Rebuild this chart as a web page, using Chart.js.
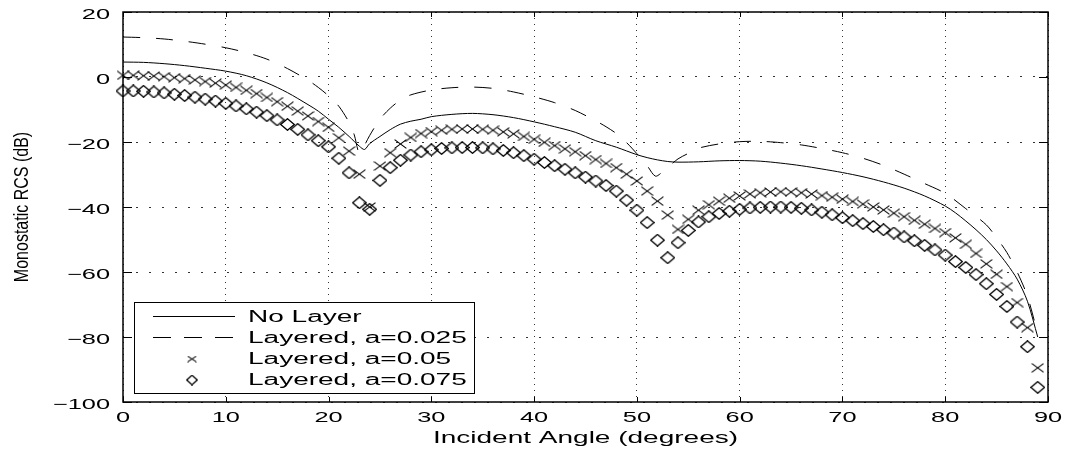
<!DOCTYPE html>
<html>
<head>
<meta charset="utf-8">
<script src="https://cdn.jsdelivr.net/npm/chart.js@4.4.1/dist/chart.umd.min.js"></script>
<style>
html,body{margin:0;padding:0;background:#fff;}
canvas{display:block;}
</style>
</head>
<body>
<canvas id="c" width="1068" height="449"></canvas>
<script>
// ---------------- data ----------------
const xTicks = [0, 10, 20, 30, 40, 50, 60, 70, 80, 90];
const yTicks = [-100, -80, -60, -40, -20, 0, 20];
const seriesLabels = ['No Layer', 'Layered, a=0.025', 'Layered, a=0.05', 'Layered, a=0.075'];
const xTitle = 'Incident Angle (degrees)';
const yTitle = 'Monostatic RCS (dB)';

const noLayerX = [0,2,4,6,8,10,12,14,16,18,19,20,21,22,23,23.5,24,25,26,27,28,29,30,32,34,36,38,40,42,44,46,48,50,51,52,53,54,56,58,60,62,64,66,68,70,72,74,76,78,80,81,82,83,84,85,86,87,88,89];
const noLayerY = [4.6,4.5,4.1,3.5,2.7,1.8,0.4,-1.8,-4.8,-8.5,-10.5,-13.0,-15.5,-18.3,-21.3,-22.3,-20.5,-18.3,-16.2,-14.5,-13.6,-13.0,-12.2,-11.5,-11.2,-11.6,-12.5,-13.8,-15.3,-17.0,-19.6,-21.6,-23.9,-24.8,-25.5,-26.0,-26.2,-26.1,-25.8,-25.7,-25.9,-26.5,-27.3,-28.3,-29.4,-30.7,-32.3,-34.2,-36.6,-39.7,-41.8,-44.3,-47.0,-50.0,-53.5,-57.5,-62.2,-69.0,-80.0];

const layer025X = [0,2,4,6,8,10,12,14,16,18,19,20,21,22,22.5,23,23.5,24,25,26,27,28,30,32,34,36,38,40,42,44,46,47,48,49,50,51,51.8,52.5,53,54,55,56,58,60,62,64,66,68,70,72,74,76,78,80,82,84,85,86,87,88,89];
const layer025Y = [12.3,12.1,11.7,11.0,10.1,9.0,7.5,5.5,2.6,-1.0,-3.2,-5.8,-9.0,-14.0,-17.8,-23.5,-21.0,-18.0,-13.0,-9.6,-7.1,-5.5,-4.0,-3.3,-3.1,-3.5,-4.6,-6.1,-7.9,-10.3,-13.5,-15.3,-17.4,-20.2,-23.6,-27.3,-30.5,-29.2,-27.8,-25.2,-23.5,-21.9,-20.6,-19.9,-19.8,-20.2,-20.9,-22.0,-23.3,-25.0,-27.2,-29.9,-32.8,-35.8,-40.5,-45.5,-49.5,-54.0,-60.0,-67.5,-79.0];

const angles = [0,1,2,3,4,5,6,7,8,9,10,11,12,13,14,15,16,17,18,19,20,21,22,23,24,25,26,27,28,29,30,31,32,33,34,35,36,37,38,39,40,41,42,43,44,45,46,47,48,49,50,51,52,53,54,55,56,57,58,59,60,61,62,63,64,65,66,67,68,69,70,71,72,73,74,75,76,77,78,79,80,81,82,83,84,85,86,87,88,89];

const layer05 = [0.5,0.5,0.4,0.3,0.1,-0.2,-0.5,-0.9,-1.4,-1.9,-2.5,-3.2,-4.1,-5.1,-6.3,-7.6,-9.0,-10.5,-12.0,-13.7,-15.5,-18.7,-22.8,-29.9,-40.0,-27.4,-23.3,-20.6,-18.6,-17.4,-16.8,-16.4,-16.1,-16.0,-16.0,-16.1,-16.4,-16.9,-17.5,-18.3,-19.2,-20.1,-21.1,-22.1,-23.0,-24.2,-25.4,-26.6,-27.9,-29.9,-32.0,-35.1,-38.2,-42.5,-46.9,-43.8,-41.0,-39.3,-38.2,-37.3,-36.6,-36.0,-35.6,-35.4,-35.3,-35.4,-35.6,-36.0,-36.5,-37.0,-37.6,-38.3,-39.1,-40.0,-40.9,-41.9,-43.0,-44.1,-45.3,-46.6,-47.9,-49.5,-51.5,-54.3,-57.5,-60.7,-64.5,-69.4,-77.1,-89.5];

const layer075 = [-4.3,-4.3,-4.4,-4.6,-4.9,-5.3,-5.7,-6.2,-6.8,-7.4,-8.1,-8.9,-9.8,-10.8,-11.9,-13.2,-14.6,-16.1,-17.8,-19.6,-21.5,-25.0,-29.5,-38.7,-40.7,-31.8,-27.9,-25.6,-24.0,-23.0,-22.4,-22.0,-21.8,-21.7,-21.7,-21.8,-22.1,-22.6,-23.3,-24.2,-25.3,-26.3,-27.3,-28.4,-29.5,-30.8,-32.0,-33.4,-35.1,-37.9,-41.0,-44.8,-50.2,-55.6,-51.0,-47.2,-44.6,-43.0,-42.0,-41.3,-40.7,-40.3,-40.1,-40.0,-40.0,-40.1,-40.4,-40.9,-41.6,-42.4,-43.3,-44.2,-45.1,-46.0,-47.0,-48.0,-49.2,-50.4,-51.8,-53.2,-54.8,-56.8,-58.6,-60.8,-63.6,-66.9,-70.6,-75.4,-83.0,-95.5];

// ---------------- styling helpers ----------------
const FONT = "'Liberation Sans', Arial, Helvetica, sans-serif";
const KX = 1.75; // horizontal stretch of the reference's text

function makeCross(w, h, lw) {
  const c = document.createElement('canvas');
  c.width = w; c.height = h;
  const g = c.getContext('2d');
  g.strokeStyle = '#000'; g.lineWidth = lw;
  g.beginPath();
  g.moveTo(0.6, 0.6); g.lineTo(w - 0.6, h - 0.6);
  g.moveTo(w - 0.6, 0.6); g.lineTo(0.6, h - 0.6);
  g.stroke();
  return c;
}
function makeDiamond(w, h, lw) {
  const c = document.createElement('canvas');
  c.width = w; c.height = h;
  const g = c.getContext('2d');
  g.strokeStyle = '#000'; g.lineWidth = lw;
  g.beginPath();
  g.moveTo(w / 2, 0.7); g.lineTo(w - 0.7, h / 2); g.lineTo(w / 2, h - 0.7); g.lineTo(0.7, h / 2);
  g.closePath();
  g.stroke();
  return c;
}
const crossImg = makeCross(13, 10, 1.15);
const diamondImg = makeDiamond(15, 13, 1.3);
const crossLeg = makeCross(10, 7, 1.1);
const diamondLeg = makeDiamond(12, 11, 1.2);

function sText(ctx, txt, x, y, align, size, kx) {
  ctx.save();
  ctx.font = size + 'px ' + FONT;
  ctx.fillStyle = '#000';
  ctx.textAlign = align;
  ctx.textBaseline = 'alphabetic';
  ctx.translate(x, y);
  ctx.scale(kx, 1);
  ctx.fillText(txt, 0, 0);
  ctx.restore();
}
function fmt(v) { return String(v).replace('-', '\u2212'); }

const framePlugin = {
  id: 'frame',
  beforeDraw(chart) {
    const ctx = chart.ctx;
    ctx.save();
    ctx.fillStyle = '#fff';
    ctx.fillRect(0, 0, chart.width, chart.height);
    ctx.restore();
  },
  afterDraw(chart) {
    const ctx = chart.ctx;
    const a = chart.chartArea;
    const xs = chart.scales.x, ys = chart.scales.y;
    ctx.save();
    ctx.strokeStyle = '#000';
    ctx.lineWidth = 1;
    ctx.beginPath();
    xTicks.forEach(v => {
      const px = Math.round(xs.getPixelForValue(v)) + 0.5;
      ctx.moveTo(px, a.bottom); ctx.lineTo(px, a.bottom - 5);
      ctx.moveTo(px, a.top); ctx.lineTo(px, a.top + 5);
    });
    yTicks.forEach(v => {
      const py = Math.round(ys.getPixelForValue(v)) + 0.5;
      ctx.moveTo(a.left, py); ctx.lineTo(a.left + 9, py);
      ctx.moveTo(a.right, py); ctx.lineTo(a.right - 9, py);
    });
    ctx.stroke();
    ctx.lineWidth = 1.5;
    ctx.strokeRect(a.left, a.top, a.right - a.left, a.bottom - a.top);
    ctx.restore();

    xTicks.forEach(v => {
      sText(ctx, fmt(v), xs.getPixelForValue(v), a.bottom + 19.5, 'center', 14.5, KX);
    });
    yTicks.forEach(v => {
      sText(ctx, fmt(v), 110, ys.getPixelForValue(v) + 7, 'right', 14.5, KX);
    });
    sText(ctx, xTitle, (a.left + a.right) / 2, 443, 'center', 16, KX);
    ctx.save();
    ctx.translate(28, (a.top + a.bottom) / 2);
    ctx.rotate(-Math.PI / 2);
    ctx.scale(1, 1.3);
    ctx.font = '16px ' + FONT;
    ctx.fillStyle = '#000';
    ctx.textAlign = 'center';
    ctx.textBaseline = 'alphabetic';
    ctx.fillText(yTitle, 0, 0);
    ctx.restore();

    const L = 134.5, T = 302.5, R = 474.5, B = 393.5;
    ctx.save();
    ctx.fillStyle = '#fff';
    ctx.fillRect(L, T, R - L, B - T);
    ctx.strokeStyle = '#000';
    ctx.lineWidth = 1;
    ctx.strokeRect(L, T, R - L, B - T);
    const rows = [316.5, 337.5, 358.5, 379.5];
    ctx.beginPath(); ctx.moveTo(153, rows[0]); ctx.lineTo(235, rows[0]); ctx.stroke();
    ctx.setLineDash([18, 13]);
    ctx.beginPath(); ctx.moveTo(153, rows[1]); ctx.lineTo(235, rows[1]); ctx.stroke();
    ctx.setLineDash([]);
    ctx.drawImage(crossLeg, 192 - crossLeg.width / 2, rows[2] - crossLeg.height / 2 + 0.5);
    ctx.drawImage(diamondLeg, 192 - diamondLeg.width / 2, rows[3] - diamondLeg.height / 2 + 0.5);
    ctx.restore();
    seriesLabels.forEach((s, i) => sText(ctx, s, 248, rows[i] + 5.7, 'left', 16, KX));
  }
};

const ctx = document.getElementById('c').getContext('2d');
new Chart(ctx, {
  type: 'scatter',
  data: {
    datasets: [
      {
        label: seriesLabels[0],
        data: noLayerX.map((x, i) => ({ x: x, y: noLayerY[i] })),
        showLine: true, borderColor: '#000', borderWidth: 1, pointRadius: 0, tension: 0.3, fill: false
      },
      {
        label: seriesLabels[1],
        data: layer025X.map((x, i) => ({ x: x, y: layer025Y[i] })),
        showLine: true, borderColor: '#000', borderWidth: 1, borderDash: [17, 16], pointRadius: 0, tension: 0.3, fill: false
      },
      {
        label: seriesLabels[2],
        data: angles.map((x, i) => ({ x: x, y: layer05[i] })),
        showLine: false, pointStyle: crossImg, pointRadius: 6, clip: false
      },
      {
        label: seriesLabels[3],
        data: angles.map((x, i) => ({ x: x, y: layer075[i] })),
        showLine: false, pointStyle: diamondImg, pointRadius: 7, clip: false
      }
    ]
  },
  options: {
    responsive: false,
    animation: false,
    devicePixelRatio: 1,
    events: [],
    layout: { padding: { left: 123, top: 12, right: 20, bottom: 47 } },
    plugins: { legend: { display: false }, tooltip: { enabled: false } },
    scales: {
      x: {
        type: 'linear', min: 0, max: 90,
        ticks: { display: false, stepSize: 10 },
        grid: { color: 'rgba(0,0,0,0.8)', lineWidth: 1, drawTicks: false },
        border: { display: false, dash: [1, 5] },
        afterFit(s) { s.height = 0; }
      },
      y: {
        type: 'linear', min: -100, max: 20,
        ticks: { display: false, stepSize: 20 },
        grid: { color: 'rgba(0,0,0,0.8)', lineWidth: 1, drawTicks: false },
        border: { display: false, dash: [2, 11] },
        afterFit(s) { s.width = 0; }
      }
    }
  },
  plugins: [framePlugin]
});
</script>
</body>
</html>
